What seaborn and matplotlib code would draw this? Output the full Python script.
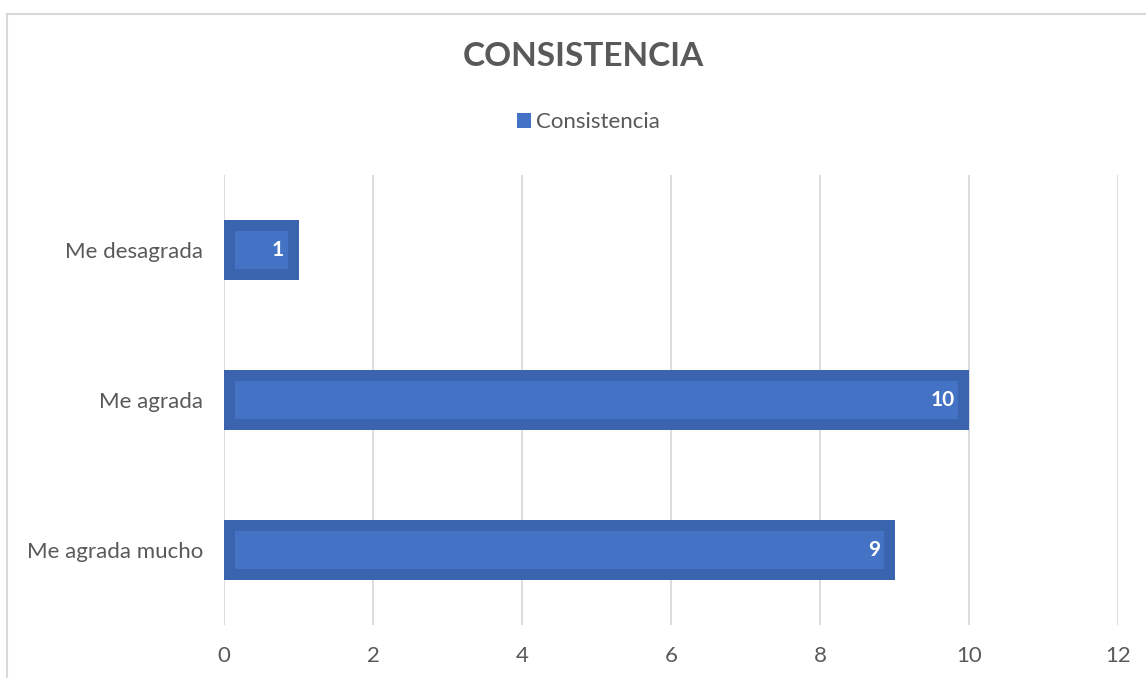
#!/usr/bin/env python3
"""Horizontal bar chart: Consistencia."""

import matplotlib.pyplot as plt
import pandas as pd
import seaborn as sns
from matplotlib.patches import Patch, Rectangle

CATEGORIES = ["Me desagrada", "Me agrada", "Me agrada mucho"]
VALUES = [1, 10, 9]
SERIES = "Consistencia"
TITLE = "CONSISTENCIA"
X_TICKS = [0, 2, 4, 6, 8, 10, 12]

OUTER = "#3b64ae"
INNER = "#4472c4"
GRID = "#d9d9d9"
TEXT = "#595959"


def main() -> None:
    sns.set_style("white")
    plt.rcParams["font.family"] = ["Lato", "DejaVu Sans"]

    df = pd.DataFrame({"cat": CATEGORIES, "val": VALUES})

    fig = plt.figure(figsize=(11.46, 6.78), dpi=100)
    ax = fig.add_axes([224 / 1146, 53 / 678, 894 / 1146, 450 / 678])

    sns.barplot(data=df, x="val", y="cat", orient="h", color=INNER,
                saturation=1, width=0.4, ax=ax, zorder=3)

    # darker frame inside each bar: thick edge clipped to the bar itself
    for patch in ax.patches:
        patch.set_edgecolor(OUTER)
        patch.set_linewidth(22 * 72 / 100)
        patch.set_clip_path(patch)

    for i, v in enumerate(VALUES):
        ax.annotate(str(v), xy=(v, i), xytext=(-10.5, 0), textcoords="offset points",
                    ha="right", va="center", color="white", fontsize=15,
                    fontweight="bold", zorder=5)

    ax.set_xlim(X_TICKS[0], X_TICKS[-1])
    ax.set_xticks(X_TICKS)
    ax.set_ylim(2.5, -0.5)
    ax.grid(axis="x", color=GRID, linewidth=1.3, zorder=0)
    ax.grid(axis="y", visible=False)
    for s in ax.spines.values():
        s.set_visible(False)
    ax.set_xlabel("")
    ax.set_ylabel("")
    ax.tick_params(axis="y", length=0, pad=15, labelsize=16, labelcolor=TEXT)
    ax.tick_params(axis="x", length=0, pad=15, labelsize=16, labelcolor=TEXT)

    fig.text(583 / 1146, 1 - 57 / 678, TITLE, ha="center", va="center",
             fontsize=24, fontweight="bold", color=TEXT)
    fig.legend(handles=[Patch(facecolor=INNER, edgecolor="none", label=SERIES)],
               loc="center", bbox_to_anchor=(588 / 1146, 1 - 122 / 678),
               frameon=False, fontsize=16, labelcolor=TEXT,
               handlelength=0.65, handleheight=0.65, handletextpad=0.2)

    # chart-area border (extends past the right and bottom edges)
    fig.patches.append(Rectangle((7 / 1146, -0.2), 1.2, 0.2 + 1 - 14 / 678,
                                 transform=fig.transFigure, fill=False,
                                 edgecolor=GRID, linewidth=1.5))

    fig.savefig("out.png", dpi=100)
    plt.close(fig)


if __name__ == "__main__":
    main()
